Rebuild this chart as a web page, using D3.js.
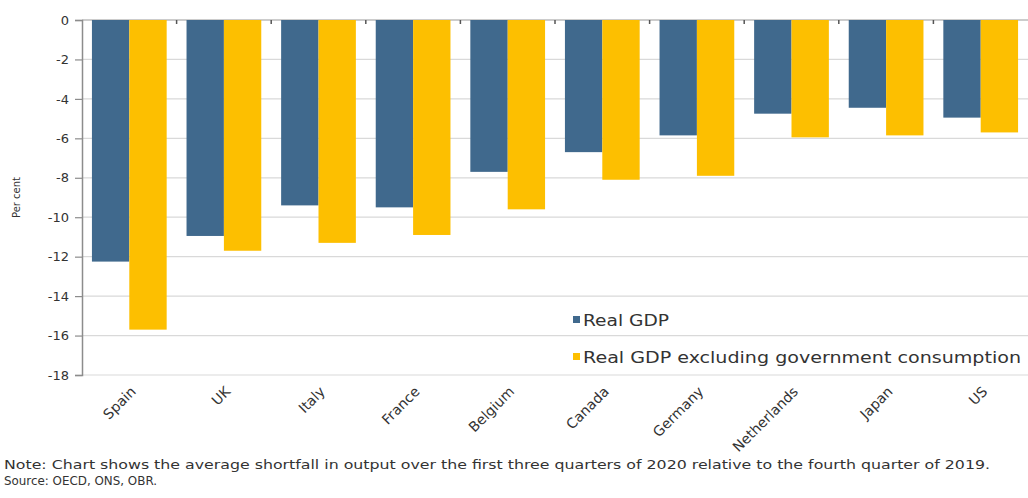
<!DOCTYPE html>
<html>
<head>
<meta charset="utf-8">
<script src="https://cdn.jsdelivr.net/npm/d3@7"></script>
<style>
  body { margin: 0; background: #fff; }
  svg text { font-family: "DejaVu Sans", sans-serif; fill: #333; }
</style>
</head>
<body>
<div id="chart"></div>
<script>
var countries = ["Spain", "UK", "Italy", "France", "Belgium", "Canada", "Germany", "Netherlands", "Japan", "US"];
var realGdp = [-12.25, -10.95, -9.4, -9.5, -7.7, -6.7, -5.85, -4.75, -4.45, -4.95];
var realGdpExGov = [-15.7, -11.7, -11.3, -10.9, -9.6, -8.1, -7.9, -5.95, -5.85, -5.7];
var seriesNames = ["Real GDP", "Real GDP excluding government consumption"];
var yTicks = [0, -2, -4, -6, -8, -10, -12, -14, -16, -18];
var noteLines = [
  "Note: Chart shows the average shortfall in output over the first three quarters of 2020 relative to the fourth quarter of 2019.",
  "Source: OECD, ONS, OBR."
];

var w = 1028,
    h = 498,
    plotLeft = 82,
    plotRight = 1028,
    plotTop = 20,
    plotBottom = 375;

var colors = ["#40698d", "#fdbf00"];

var svg = d3.select("#chart")
            .append("svg")
            .attr("width", w)
            .attr("height", h);

var x0 = d3.scaleBand()
           .domain(countries)
           .range([plotLeft, plotRight])
           .paddingInner(0.21)
           .paddingOuter(0.105);

var x1 = d3.scaleBand()
           .domain([0, 1])
           .range([0, x0.bandwidth()]);

var y = d3.scaleLinear()
          .domain([0, -18])
          .range([plotTop, plotBottom]);

// gridlines
svg.append("g")
   .selectAll("line")
   .data(yTicks)
   .enter()
   .append("line")
   .attr("x1", plotLeft)
   .attr("x2", plotRight)
   .attr("y1", d => y(d))
   .attr("y2", d => y(d))
   .attr("stroke", d => d === 0 ? "#9a9a9a" : "#d9d9d9")
   .attr("stroke-width", 1.2);

// bars
var groups = svg.append("g")
   .selectAll("g")
   .data(countries)
   .enter()
   .append("g")
   .attr("transform", d => "translate(" + x0(d) + ",0)");

groups.selectAll("rect")
      .data((d, i) => [realGdp[i], realGdpExGov[i]])
      .enter()
      .append("rect")
      .attr("x", (d, j) => x1(j))
      .attr("width", x1.bandwidth())
      .attr("y", y(0))
      .attr("height", d => y(d) - y(0))
      .attr("fill", (d, j) => colors[j]);

// small ticks between categories on the zero line
var gap = x0.step() - x0.bandwidth();
svg.append("g")
   .selectAll("line")
   .data(countries.slice(1))
   .enter()
   .append("line")
   .attr("x1", d => x0(d) - gap / 2)
   .attr("x2", d => x0(d) - gap / 2)
   .attr("y1", y(0))
   .attr("y2", y(0) + 4)
   .attr("stroke", "#555")
   .attr("stroke-width", 1.5);

// y axis
var yAxis = d3.axisLeft(y)
              .tickValues(yTicks)
              .tickSize(7)
              .tickPadding(6)
              .tickFormat(d => String(d));

var ya = svg.append("g")
   .attr("transform", "translate(" + plotLeft + ",0)")
   .call(yAxis);
ya.select(".domain").attr("stroke", "#8c8c8c").attr("stroke-width", 1.5);
ya.selectAll(".tick line").attr("stroke", "#8c8c8c").attr("stroke-width", 1.2);
ya.selectAll(".tick text")
  .style("font-family", "DejaVu Sans, sans-serif")
  .style("font-size", "13px")
  .attr("fill", "#333");

svg.append("text")
   .attr("transform", "translate(20," + ((plotTop + plotBottom) / 2) + ") rotate(-90)")
   .attr("text-anchor", "middle")
   .style("font-size", "10px")
   .text("Per cent");

// category labels
svg.append("g")
   .selectAll("text")
   .data(countries)
   .enter()
   .append("text")
   .attr("transform", d => "translate(" + (x0(d) + x0.bandwidth() / 2 + 4) + "," + (plotBottom + 14) + ") rotate(-45)")
   .attr("text-anchor", "end")
   .attr("dy", "0.35em")
   .style("font-size", "14px")
   .text(d => d);

// legend
var legendLen = [86, 438];
var legend = svg.append("g")
   .selectAll("g")
   .data(seriesNames)
   .enter()
   .append("g")
   .attr("transform", (d, i) => "translate(573," + (320 + i * 37) + ")");

legend.append("rect")
      .attr("x", 0)
      .attr("y", -4)
      .attr("width", 7)
      .attr("height", 7)
      .attr("fill", (d, i) => colors[i]);

legend.append("text")
      .attr("x", 10)
      .attr("dy", "0.35em")
      .style("font-size", "16px")
      .attr("textLength", (d, i) => legendLen[i])
      .attr("lengthAdjust", "spacingAndGlyphs")
      .text(d => d);

// notes
svg.append("g")
   .selectAll("text")
   .data(noteLines)
   .enter()
   .append("text")
   .attr("x", 4)
   .attr("y", (d, i) => 469 + i * 16)
   .style("font-size", "12px")
   .attr("textLength", (d, i) => i === 0 ? 986 : 153)
   .attr("lengthAdjust", "spacingAndGlyphs")
   .text(d => d);
</script>
</body>
</html>
